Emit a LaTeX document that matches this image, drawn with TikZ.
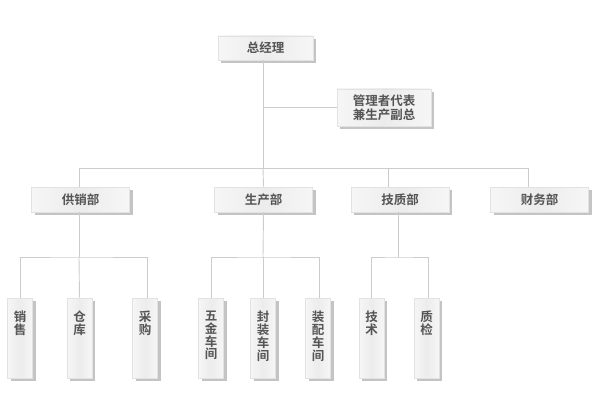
\documentclass[tikz,border=0pt]{standalone}
\usepackage{fontspec}
\setmainfont{Noto Sans CJK SC}[BoldFont={Noto Sans CJK SC Bold}]
\usetikzlibrary{shadows}
\definecolor{linegray}{HTML}{CCCCCC}
\definecolor{boxborder}{HTML}{E2E2E2}
\definecolor{boxlight}{HTML}{F6F6F6}
\definecolor{boxmid}{HTML}{ECECEC}
\definecolor{shadowgray}{HTML}{C4C4C4}
\definecolor{textgray}{HTML}{555555}
\begin{document}
\begin{tikzpicture}[x=1pt,y=-1pt,
  box/.style={draw=boxborder, line width=0.8pt,
    left color=boxlight, right color=boxlight, middle color=boxmid,
    drop shadow={shadow xshift=3pt, shadow yshift=-3pt, fill=shadowgray, opacity=1},
    inner sep=0pt, text=textgray, font=\fontsize{12.5}{14}\selectfont\bfseries, align=center},
  dept/.style={box, minimum width=98pt, minimum height=25pt},
  leaf/.style={box, minimum width=25pt, minimum height=80pt},
  conn/.style={draw=linegray, line width=0.9pt}
]
\useasboundingbox (0,0) rectangle (597,417);
\newcommand{\vtext}[1]{\parbox[t][80pt][t]{25pt}{\centering\vspace{13pt}\fontsize{12.5}{12.8}\selectfont #1}}

% boxes
\node[box, minimum width=95pt, minimum height=24pt] (gm) at (265.5,48) {总经理};
\node[box, minimum width=94pt, minimum height=37pt] (rep) at (384,107.5) {管理者代表\\兼生产副总};

\node[dept] (d1) at (80.5,199.5) {供销部};
\node[dept] (d2) at (263.5,199.5) {生产部};
\node[dept] (d3) at (400,199.5) {技质部};
\node[dept] (d4) at (539.5,199.5) {财务部};

\node[leaf] (l1) at (20,338) {\vtext{销\\售}};
\node[leaf] (l2) at (79.5,338) {\vtext{仓\\库}};
\node[leaf] (l3) at (145,338) {\vtext{采\\购}};
\node[leaf] (l4) at (211,338) {\vtext{五\\金\\车\\间}};
\node[leaf] (l5) at (263,338) {\vtext{封\\装\\车\\间}};
\node[leaf] (l6) at (318,338) {\vtext{装\\配\\车\\间}};
\node[leaf] (l7) at (371.5,338) {\vtext{技\\术}};
\node[leaf] (l8) at (426.5,338) {\vtext{质\\检}};

% hub coordinates
\coordinate (top) at (263,168);
\coordinate (s1) at (79,257);
\coordinate (s2) at (263,257);
\coordinate (s3) at (398,257);

% connectors
\begin{scope}[on background layer/.style={}]
\draw[conn] ([xshift=-2.5pt]gm.south) -- (top);
\draw[conn] ([xshift=-2.5pt]gm.south |- rep.west) -- (rep.west);
\draw[conn] (top -| {79,0}) -- (top -| {528,0});
\draw[conn] (top -| {79,0}) -- ([xshift=-1.5pt]d1.north);
\draw[conn] (top) -- (d2.north);
\draw[conn] (top -| {388,0}) -- ([xshift=-12pt]d3.north);
\draw[conn] (top -| {528,0}) -- ([xshift=-11.5pt]d4.north);

\draw[conn] ([xshift=-1.5pt]d1.south) -- (s1);
\draw[conn] (d2.south) -- (s2);
\draw[conn] ([xshift=-2pt]d3.south) -- (s3);

\draw[conn] (l1.north) |- (s1) -| ([xshift=2pt]l3.north);
\draw[conn] (s1) -- (l2.north);
\draw[conn] (l4.north) |- (s2) -| ([xshift=1pt]l6.north);
\draw[conn] (s2) -- (l5.north);
\draw[conn] (l7.north) |- (s3) -| ([xshift=1.5pt]l8.north);
\end{scope}
\end{tikzpicture}
\end{document}
